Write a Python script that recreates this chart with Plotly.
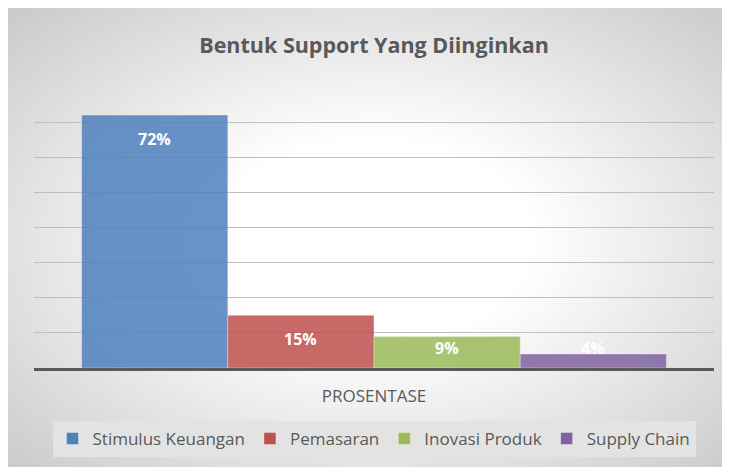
import base64
import plotly.graph_objects as go

# ---- data ----
category = ["PROSENTASE"]
series_names = ["Stimulus Keuangan", "Pemasaran", "Inovasi Produk", "Supply Chain"]
series_values = [72, 15, 9, 4]
series_labels = ["72%", "15%", "9%", "4%"]
series_colors = ["#4F81BD", "#C0504D", "#9BBB59", "#8064A2"]

W, H = 730, 467
ML, MT = 26, 79
plot_w, plot_h = 680, 281
MR = W - ML - plot_w
MB = H - MT - plot_h
y_max = 80
bargap = 0.14

fig = go.Figure()
for name, val, col in zip(series_names, series_values, series_colors):
    fig.add_trace(go.Bar(
        x=category, y=[val], name=name,
        marker=dict(color=col, opacity=0.85,
                    line=dict(color="rgba(255,255,255,0.35)", width=1)),
        hoverinfo="skip",
    ))

# data labels (inside end, clamped above the axis like the original)
px_per_unit = plot_h / y_max
n = len(series_values)
bw = (1 - bargap) / n
annotations = []
for i, (val, lab) in enumerate(zip(series_values, series_labels)):
    xc = -(1 - bargap) / 2 + bw * (i + 0.5)
    ylab = max(val - 24 / px_per_unit, 20.5 / px_per_unit)
    annotations.append(dict(
        x=xc, y=ylab, xref="x", yref="y", text=lab, showarrow=False,
        font=dict(family="Open Sans", size=16, color="white", weight="bold"),
        xanchor="center", yanchor="middle",
    ))

# radial gradient chart-area background (covers whole figure)
vis_w, vis_h = 722, 459
svg = (
    f'<svg xmlns="http://www.w3.org/2000/svg" width="{vis_w}" height="{vis_h}" '
    f'viewBox="0 0 {vis_w} {vis_h}" preserveAspectRatio="none">'
    '<defs><radialGradient id="g" cx="0.5" cy="0.5" r="0.72">'
    '<stop offset="0" stop-color="#ffffff"/>'
    '<stop offset="0.3" stop-color="#ffffff"/>'
    '<stop offset="1" stop-color="#c8c8c8"/>'
    '</radialGradient></defs>'
    f'<rect x="0" y="0" width="{vis_w}" height="{vis_h}" fill="url(#g)"/></svg>'
)
src = "data:image/svg+xml;base64," + base64.b64encode(svg.encode()).decode()
images = [dict(
    source=src, xref="paper", yref="paper",
    x=(0 - ML) / plot_w, y=(H - MB) / plot_h,
    sizex=W / plot_w, sizey=H / plot_h,
    xanchor="left", yanchor="top", sizing="stretch", layer="below",
)]

fig.update_layout(
    width=W, height=H,
    margin=dict(l=ML, r=MR, t=MT, b=MB, pad=0),
    paper_bgcolor="#d6d6d6", plot_bgcolor="rgba(0,0,0,0)",
    barmode="group", bargap=bargap, bargroupgap=0,
    title=dict(text="Bentuk Support Yang Diinginkan", x=0.5, xref="paper",
               xanchor="center", y=1 - 37 / H, yanchor="middle",
               font=dict(family="Open Sans", size=21.5, color="#595959", weight="bold")),
    font=dict(family="Open Sans", color="#595959"),
    showlegend=True,
    legend=dict(orientation="h", x=0.5, xanchor="center",
                y=-(431 - (H - MB)) / plot_h, yanchor="middle",
                bgcolor="#e3e3e3", borderwidth=0,
                font=dict(family="Open Sans", size=17, color="#595959"),
                itemclick=False, itemdoubleclick=False),
    annotations=annotations,
    images=images,
)
fig.update_xaxes(showline=True, linecolor="#595959", linewidth=2.5,
                 ticks="", showgrid=False, ticklabelstandoff=11,
                 tickfont=dict(family="Open Sans", size=17, color="#595959"),
                 fixedrange=True)
fig.update_yaxes(range=[0, y_max], dtick=10, showgrid=True, gridcolor="#bfbfbf",
                 gridwidth=1, showticklabels=False, zeroline=False, showline=False,
                 ticks="", fixedrange=True)

fig.write_html("out.html")
